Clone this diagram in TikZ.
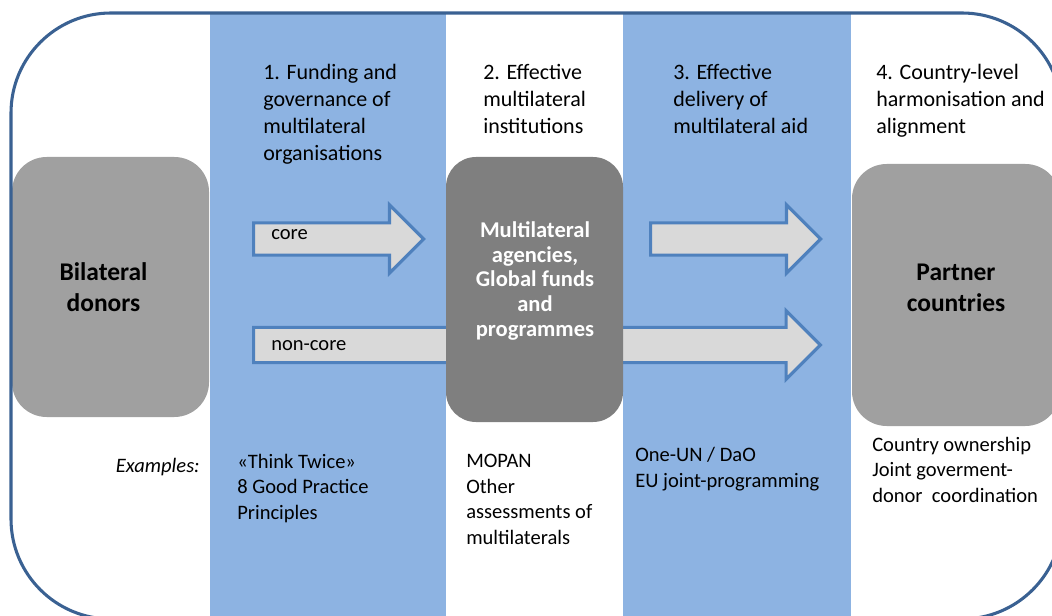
\documentclass[tikz,border=0pt]{standalone}
\usepackage{fontspec}
\setmainfont{Carlito}
\usetikzlibrary{shapes.arrows}
\definecolor{frameblue}{HTML}{3A6192}
\definecolor{colblue}{HTML}{8DB3E2}
\definecolor{arrowedge}{HTML}{4F81BD}
\definecolor{arrowfill}{HTML}{D9D9D9}
\definecolor{lightgreybox}{HTML}{A0A0A0}
\definecolor{darkgreybox}{HTML}{7F7F7F}
\begin{document}
\begin{tikzpicture}[x=0.75pt,y=-0.75pt,
  blockarrow/.style={single arrow, draw=arrowedge, fill=arrowfill, line width=2.4pt,
    inner xsep=0pt, anchor=tail, single arrow tip angle=90},
  actorbox/.style={rounded corners=26pt, inner sep=0pt},
  heading/.style={anchor=base west, align=left, inner sep=0pt,
    font=\fontsize{16.5pt}{20.25pt}\selectfont},
  example/.style={anchor=base west, align=left, inner sep=0pt,
    font=\fontsize{15.4pt}{19.1pt}\selectfont},
  actortext/.style={anchor=base, align=center, inner sep=0pt,
    font=\fontsize{19.1pt}{24pt}\selectfont\bfseries},
  flowlabel/.style={anchor=base west, inner sep=0pt,
    font=\fontsize{15.4pt}{19pt}\selectfont}]
\useasboundingbox (0,0) rectangle (1052,616);
\clip (0,0) rectangle (1052,616);

% shaded columns for stages 1 and 3
\fill[colblue] (210,13) rectangle (446,616);
\fill[colblue] (623,13) rectangle (851,616);

% flow arrows (multi-line nodes anchor on their last baseline)
\node[blockarrow, minimum height=127.5pt, inner ysep=10.9pt,
      single arrow head extend=13.5pt] (corearrow) at (252,239) {};
\node[blockarrow, minimum height=425pt, inner ysep=12pt,
      single arrow head extend=12.4pt] (noncorearrow) at (252,345) {};
\node[blockarrow, minimum height=127.5pt, inner ysep=10.9pt,
      single arrow head extend=13.5pt] (deliveryarrow) at (649,239) {};

% actors
\node[actorbox, fill=lightgreybox, minimum width=147.75pt, minimum height=195pt]
  (bilateral) at (110.5,287) {};
\node[actorbox, fill=darkgreybox, rounded corners=22.5pt,
      minimum width=132.75pt, minimum height=198.75pt]
  (multilateral) at (534.5,289.5) {};
\node[actorbox, fill=lightgreybox, minimum width=156pt, minimum height=196.5pt]
  (partner) at (956,295) {};

% outer frame
\draw[frameblue, line width=2.3pt, rounded corners=75pt] (11,13) rectangle (1062,619);

% actor names
\node[actortext] (bilateraltext) at (103.5,312) {Bilateral\\donors};
\node[actortext] (partnertext) at (956,312) {Partner\\countries};
\node[actortext, text=white, font=\fontsize{16.9pt}{18.4pt}\selectfont\bfseries]
  (multilateraltext) at (535,336)
  {Multilateral\\agencies,\\Global funds\\and\\programmes};

% arrow labels
\node[flowlabel] (corelabel) at (271,240) {core};
\node[flowlabel] (noncorelabel) at (271,350) {non-core};

% stage headings
\node[heading] (stage1) at (263,161) {1. Funding and\\governance of\\multilateral\\organisations};
\node[heading] (stage2) at (483,134) {2. Effective\\multilateral\\institutions};
\node[heading] (stage3) at (673,134) {3. Effective\\delivery of\\multilateral aid};
\node[heading] (stage4) at (876,134) {4. Country-level\\harmonisation and\\alignment};

% examples row
\node[example, anchor=base east, font=\fontsize{15.4pt}{19.1pt}\selectfont\itshape]
  (exampleslabel) at (200,472) {Examples:};
\node[example] (ex1) at (237,519) {«Think Twice»\\8 Good Practice\\Principles};
\node[example] (ex2) at (466,544) {MOPAN\\Other\\assessments of\\multilaterals};
\node[example] (ex3) at (635,487) {One-UN / DaO\\EU joint-programming};
\node[example] (ex4) at (872,502) {Country ownership\\Joint goverment-\\donor\ \ coordination};
\end{tikzpicture}
\end{document}
